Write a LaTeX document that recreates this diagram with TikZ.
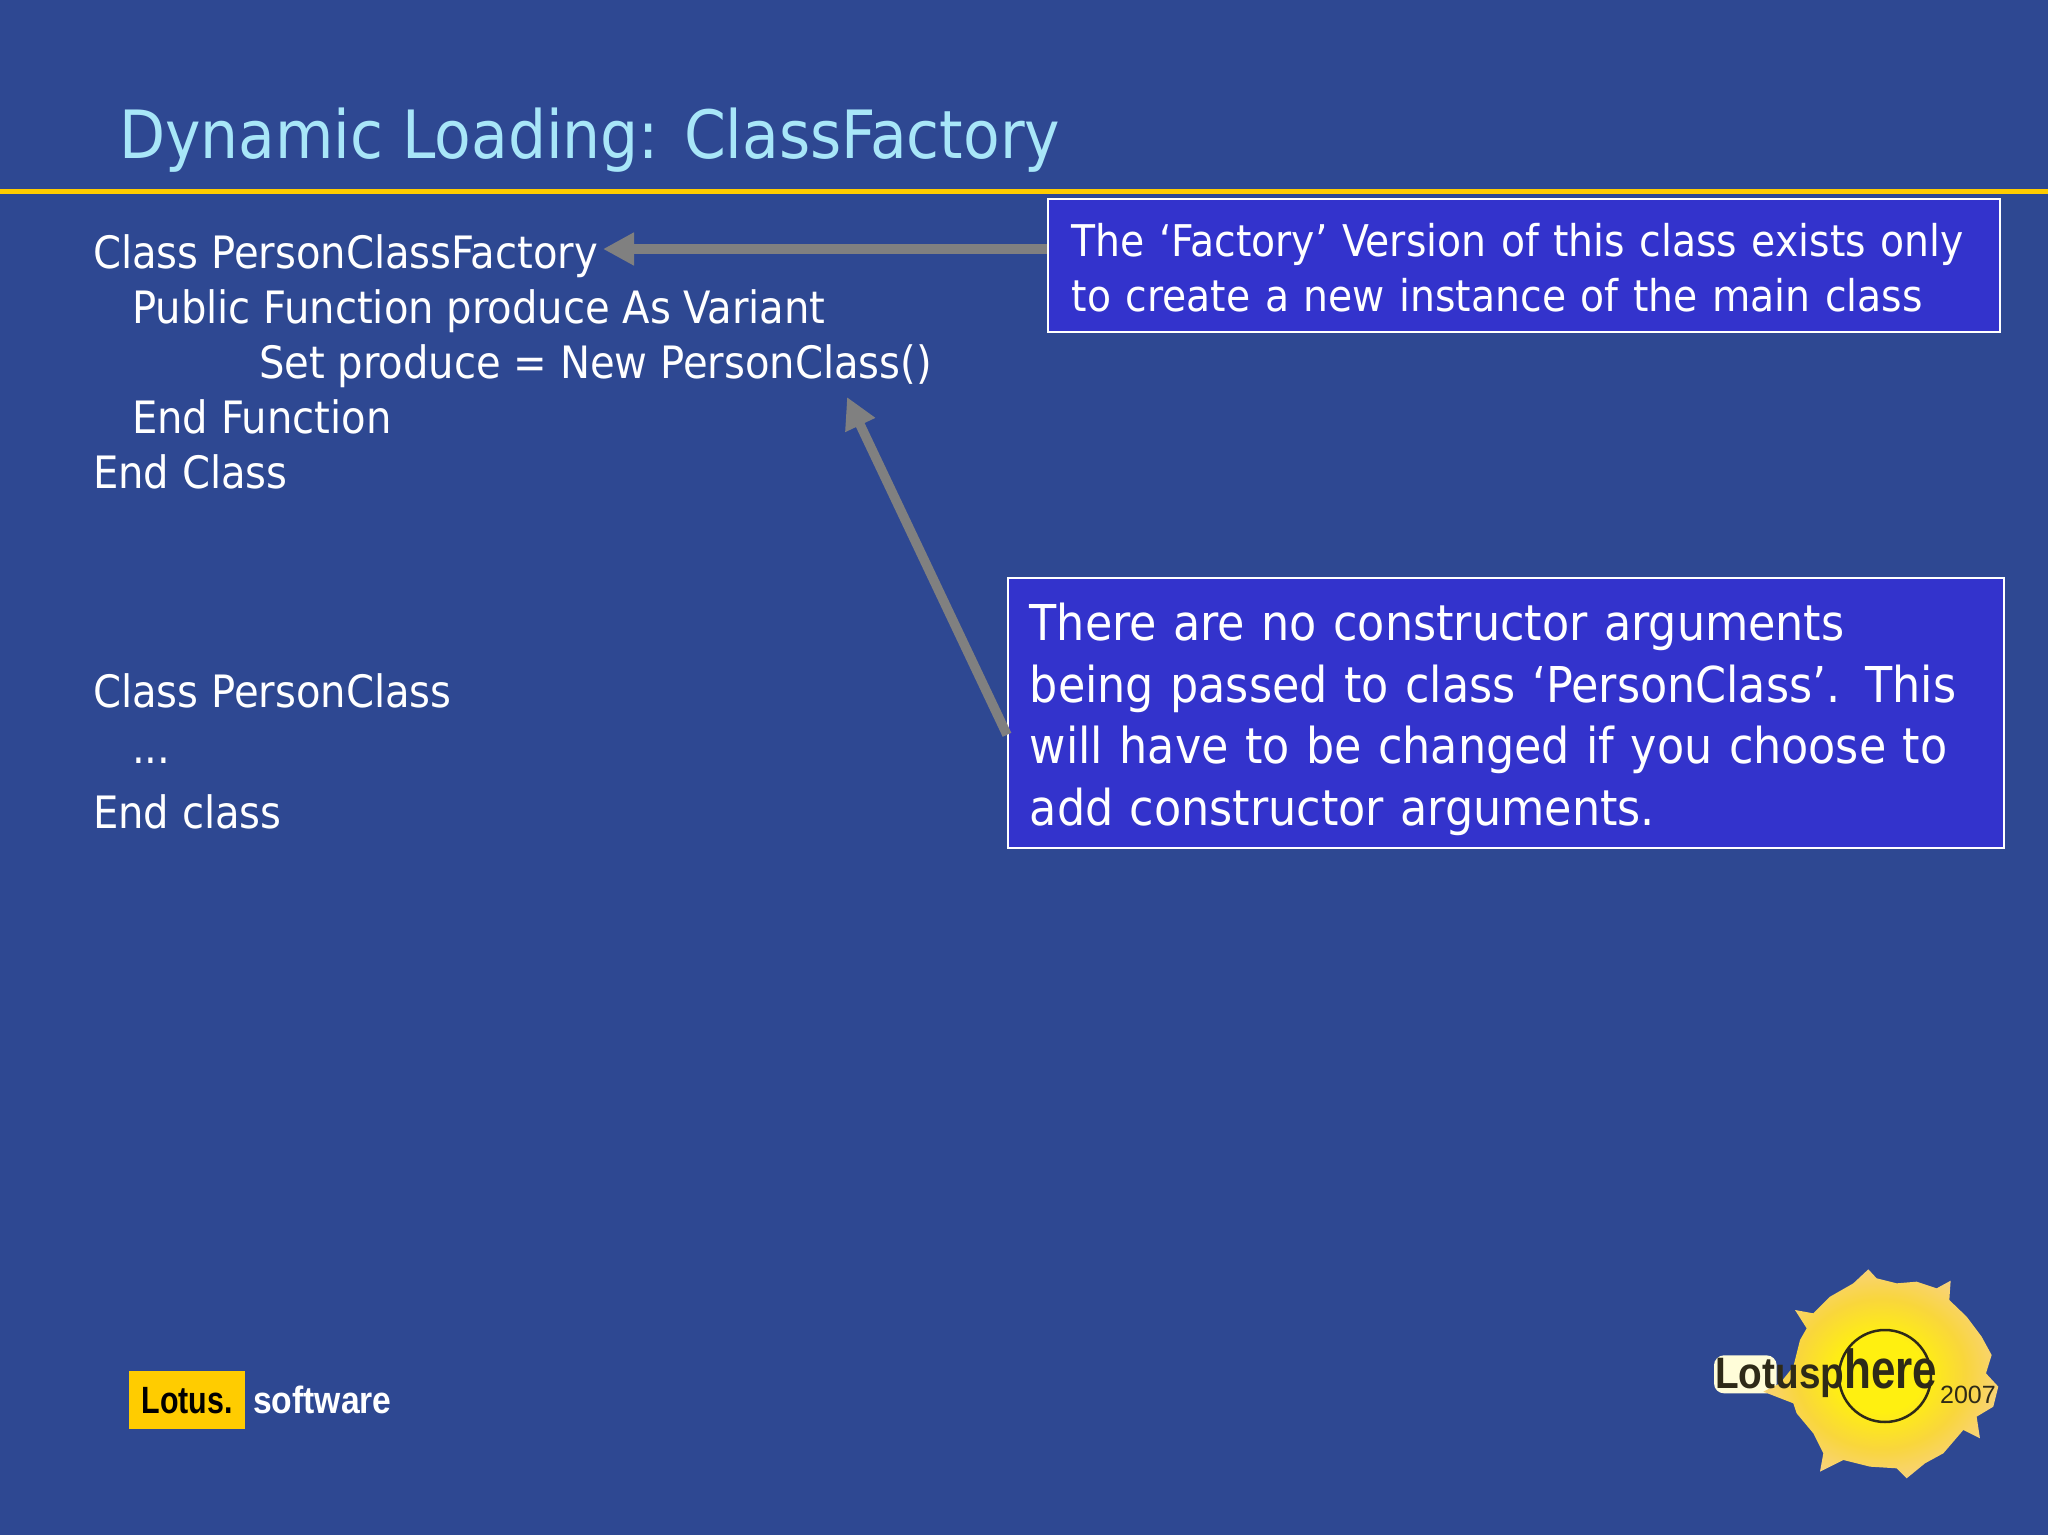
\documentclass[tikz,border=0pt]{standalone}
\usepackage{fontspec}
\setmainfont{DejaVu Sans Condensed}
\newfontfamily\titlefont{DejaVu Sans Condensed}
\newfontfamily\logofont{Liberation Sans}
\usetikzlibrary{arrows.meta}

\definecolor{slidebg}{HTML}{2E4892}
\definecolor{titlecol}{HTML}{A8E6F8}
\definecolor{rulecol}{HTML}{FFCC00}
\definecolor{boxfill}{HTML}{3333CC}
\definecolor{arrowgray}{HTML}{808080}
\definecolor{sunmid}{HTML}{FFF010}
\definecolor{sunring}{HTML}{F9D63C}
\definecolor{sunedge}{HTML}{F8D09C}
\definecolor{logoink}{HTML}{2E2A18}

\pgfdeclareradialshading{sunglow}{\pgfpoint{0bp}{0bp}}{color(0bp)=(sunmid); color(9bp)=(sunmid); color(18bp)=(sunring); color(30bp)=(sunedge); color(50bp)=(sunedge)}

\tikzset{
  codeline/.style={anchor=base west,inner sep=0pt,text=white,font=\fontsize{44.6}{55}\selectfont},
  calloutbox/.style={draw=white,line width=1.6pt,fill=boxfill,text=white,anchor=north west,align=left,inner sep=0pt},
  calloutarrow/.style={draw=arrowgray,line width=9.5pt,-{Triangle[length=31pt,width=31pt]}},
}

\begin{document}
\begin{tikzpicture}[x=1pt,y=-1pt]
  \useasboundingbox (0,0) rectangle (2048,1534);
  \fill[slidebg] (-3,-3) rectangle (2051,1537);

  % title and rule
  \node[anchor=base west,inner sep=0pt,text=titlecol,font=\titlefont\fontsize{66.6}{80}\selectfont] (slidetitle) at (119,158) {Dynamic Loading: ClassFactory};
  \fill[rulecol] (0,189) rectangle (2048,193.5);

  % code
  \node[codeline] (classfactory) at (93,268) {Class PersonClassFactory};
  \node[codeline] (producefn) at (132,323) {Public Function produce As Variant};
  \node[codeline] (setproduce) at (259,378) {Set produce = New PersonClass()};
  \node[codeline] (endfn) at (132,433) {End Function};
  \node[codeline] (endclass) at (93,488) {End Class};

  \node[codeline] (personclass) at (93,707) {Class PersonClass};
  \node[codeline] (dots) at (132,763) {...};
  \node[codeline] (endperson) at (93,828) {End class};

  % callouts
  \node[calloutbox,minimum width=952,minimum height=133,text width=904,inner xsep=24pt,font=\fontsize{43.7}{55}\selectfont] (factbox) at (1047,198)
    {\rule{0pt}{38.5pt}The ‘Factory’ Version of this class exists only\\to create a new instance of the main class};
  \node[calloutbox,minimum width=996,minimum height=270,text width=952,inner xsep=22pt,font=\fontsize{49.4}{61.5}\selectfont] (noargsbox) at (1007,577)
    {\rule{0pt}{51pt}There are no constructor arguments\\being passed to class ‘PersonClass’. This\\will have to be changed if you choose to\\add constructor arguments.};

  \coordinate (factarrow) at (603,249);
  \coordinate (newarrow) at (847,397);
  \draw[calloutarrow] (factbox.west |- factarrow) -- (factarrow);
  \draw[calloutarrow] ([yshift=-22pt]noargsbox.west) -- (newarrow);

  % lotus software
  \node[fill=rulecol,minimum width=116,minimum height=58,anchor=north west,inner sep=0pt,text=black,font=\logofont\bfseries\fontsize{38}{40}\selectfont] (lotusbadge) at (129,1371) {\scalebox{0.8}[1]{Lotus.}};
  \node[anchor=base west,inner sep=0pt,text=white,font=\logofont\bfseries\fontsize{38}{40}\selectfont] (softwarelabel) at (253,1413) {\scalebox{0.886}[1]{software}};

  % lotusphere sun
  \begin{scope}[shift={(1680,1250)},x=0.3333pt,y=-0.3333pt]
    \fill[white!85!yellow,rounded corners=10pt] (102,316) rectangle (290,430);
    \shade[shading=sunglow] (565,58)--(590,85)--(650,100)--(710,95)--(770,115)--(812,92)--(808,150)--(860,200)--(905,260)--(935,315)--(918,370)--(955,410)--(940,470)--(890,500)--(900,565)--(850,540)--(790,610)--(735,640)--(680,685)--(650,655)--(570,650)--(490,630)--(420,665)--(430,610)--(400,550)--(350,490)--(340,460)--(250,425)--(300,400)--(340,350)--(360,270)--(380,235)--(345,180)--(400,190)--(450,140)--(520,100)--cycle;
    \draw[logoink,line width=2.5pt] (615,378) circle (138);
    \node[anchor=base west,inner sep=0pt,text=logoink,font=\logofont\fontsize{44}{44}\selectfont] (lotusword) at (105,415) {\scalebox{0.88}[1]{\bfseries Lotusp}\scalebox{1}[1.25]{\bfseries here}};
    \node[anchor=base west,inner sep=0pt,text=logoink,font=\logofont\fontsize{25}{25}\selectfont] (yearlabel) at (780,460) {2007};
  \end{scope}
\end{tikzpicture}
\end{document}
